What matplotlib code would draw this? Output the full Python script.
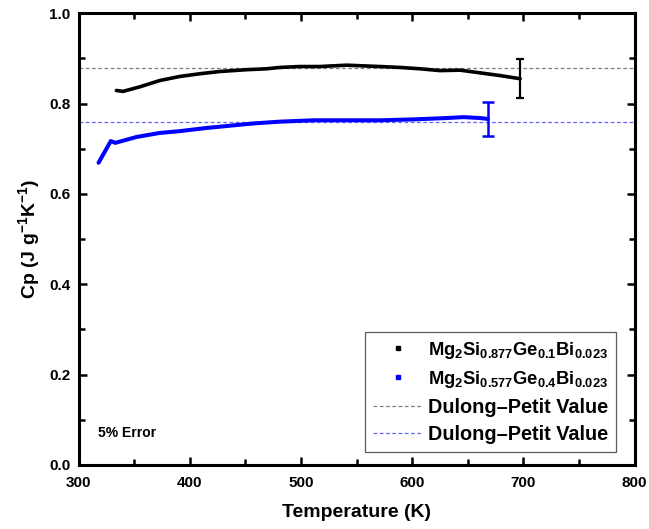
import matplotlib
matplotlib.use("Agg")
import matplotlib.pyplot as plt
from matplotlib.lines import Line2D
from matplotlib.ticker import MultipleLocator, FormatStrFormatter

plt.rcParams['font.family'] = ['Liberation Sans', 'DejaVu Sans']
plt.rcParams['font.weight'] = 'bold'
plt.rcParams['mathtext.fontset'] = 'custom'
plt.rcParams['mathtext.rm'] = 'Liberation Sans:bold'
plt.rcParams['mathtext.bf'] = 'Liberation Sans:bold'
plt.rcParams['mathtext.it'] = 'Liberation Sans:bold'

# Specific heat, Mg2Si0.877Ge0.1Bi0.023
temp_ge01 = [334, 340, 355, 373, 391, 409, 427, 451, 469, 481, 499, 517, 541,
             571, 589, 607, 625, 643, 661, 679, 697]
cp_ge01 = [0.829, 0.827, 0.837, 0.851, 0.860, 0.866, 0.871, 0.875, 0.877, 0.880,
           0.882, 0.882, 0.885, 0.882, 0.880, 0.877, 0.873, 0.874, 0.868, 0.862, 0.855]

# Specific heat, Mg2Si0.577Ge0.4Bi0.023
temp_ge04 = [318, 329, 333, 352, 373, 391, 415, 436, 457, 481, 511, 541, 571,
             601, 631, 646, 661, 668]
cp_ge04 = [0.669, 0.717, 0.713, 0.726, 0.735, 0.739, 0.746, 0.751, 0.756, 0.760,
           0.763, 0.763, 0.763, 0.765, 0.768, 0.770, 0.768, 0.766]

# Dulong-Petit limits
dp_ge01 = 0.878
dp_ge04 = 0.759

error_fraction = 0.05

fig = plt.figure(figsize=(6.49, 5.29), dpi=100)
ax = fig.add_axes([0.121, 0.121, 0.857, 0.854])

ax.axhline(dp_ge01, color='#808080', lw=0.9, ls=(0, (3, 2)))
ax.axhline(dp_ge04, color='#6666ff', lw=0.9, ls=(0, (3, 2)))

ax.plot(temp_ge01, cp_ge01, color='black', lw=2.6, solid_capstyle='round')
ax.plot(temp_ge04, cp_ge04, color='#0000ff', lw=2.9, solid_capstyle='round')

ax.errorbar([temp_ge01[-1]], [cp_ge01[-1]], yerr=[cp_ge01[-1] * error_fraction],
            color='black', lw=1.6, capsize=3, capthick=1.6, fmt='none')
ax.errorbar([temp_ge04[-1]], [cp_ge04[-1]], yerr=[cp_ge04[-1] * error_fraction],
            color='#0000ff', lw=1.8, capsize=4, capthick=1.8, fmt='none')

ax.set_xlim(300, 800)
ax.set_ylim(0.0, 1.0)
ax.xaxis.set_major_locator(MultipleLocator(100))
ax.xaxis.set_minor_locator(MultipleLocator(50))
ax.yaxis.set_major_locator(MultipleLocator(0.2))
ax.yaxis.set_minor_locator(MultipleLocator(0.1))
ax.yaxis.set_major_formatter(FormatStrFormatter('%.1f'))

for s in ax.spines.values():
    s.set_linewidth(2.2)
ax.tick_params(which='both', direction='in', top=True, right=True, width=1.8,
               labelsize=11)
ax.tick_params(axis='x', pad=8)
ax.tick_params(axis='y', pad=6)
ax.tick_params(which='major', length=6)
ax.tick_params(which='minor', length=4)
for lab in ax.get_xticklabels() + ax.get_yticklabels():
    lab.set_fontweight('bold')

ax.set_xlabel('Temperature (K)', fontsize=14, fontweight='bold', labelpad=10)
ax.set_ylabel(r'Cp (J g$^{-1}$K$^{-1}$)', fontsize=14, fontweight='bold', labelpad=5)

ax.text(0.035, 0.07, '5% Error', transform=ax.transAxes, fontsize=10,
        fontweight='bold', ha='left', va='center')

handles = [
    Line2D([], [], color='black', marker='s', markersize=2.2, ls='none'),
    Line2D([], [], color='#0000ff', marker='s', markersize=2.2, ls='none'),
    Line2D([], [], color='#808080', lw=0.9, ls=(0, (3, 2))),
    Line2D([], [], color='#6666ff', lw=0.9, ls=(0, (3, 2))),
]
labels = [
    r'$\mathbf{Mg_2Si_{0.877}Ge_{0.1}Bi_{0.023}}$',
    r'$\mathbf{Mg_2Si_{0.577}Ge_{0.4}Bi_{0.023}}$',
    'Dulong\u2013Petit Value',
    'Dulong\u2013Petit Value',
]
leg = ax.legend(handles, labels, loc='lower right', bbox_to_anchor=(0.967, 0.029),
                borderaxespad=0, frameon=True, fancybox=False,
                handlelength=2.5, handletextpad=0.3, labelspacing=0.4,
                borderpad=0.4, prop={'weight': 'bold', 'size': 14.3})
for t in leg.get_texts()[:2]:
    t.set_fontsize(13.2)
leg.get_frame().set_edgecolor('#333333')
leg.get_frame().set_linewidth(0.9)

fig.savefig('out.png', dpi=100, facecolor='white')
